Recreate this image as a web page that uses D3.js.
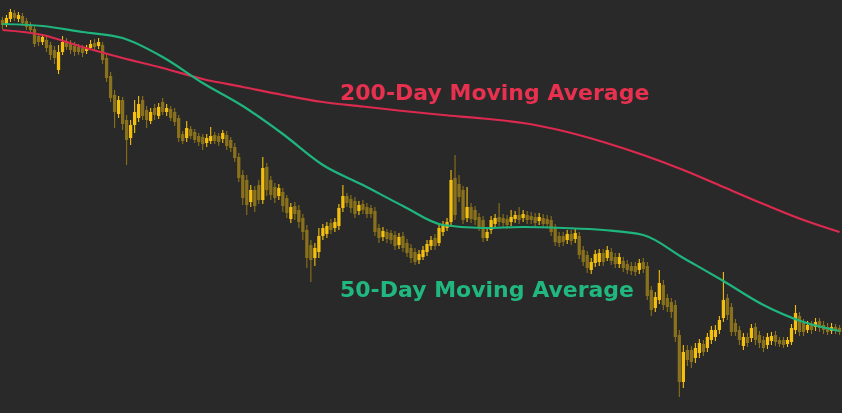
<!DOCTYPE html>
<html><head><meta charset="utf-8">
<script src="https://cdn.jsdelivr.net/npm/d3@7/dist/d3.min.js"></script>
<style>html,body{margin:0;padding:0;background:#292929;overflow:hidden}</style>
</head><body><svg id="c" width="842" height="413"></svg>
<script>
const opens=[400,396,401,407,401,404,399,395,391,384,378,380,375,370,350,368,379,376,374,373,372,369,372,377,374,375,362,344,325,306,320,300,282,295,302,320,310,299,312,304,318,308,311,308,302,286,282,291,288,284,283,277,279,285,284,281,285,280,273,263,245,240,218,230,235,220,253,240,233,224,228,222,201,214,210,202,190,175,162,168,184,186,197,192,194,212,224,221,219,209,216,213,212,209,192,183,188,187,185,175,184,177,172,168,160,163,168,174,182,177,188,192,198,242,236,230,202,213,210,203,200,182,190,196,203,202,201,198,201,205,202,205,204,203,199,202,201,200,192,184,184,180,186,181,184,170,165,150,157,158,167,162,168,163,156,159,156,154,154,150,158,154,130,112,120,135,122,118,115,85,38,70,70,62,67,76,72,80,83,90,102,122,113,97,90,74,83,82,93,85,80,75,79,85,80,80,76,78,90,104,97,90,95,93,99,95,93,89,93,92];
const highs=[403,405,411,410,408,407,402,398,395,387,386,383,378,374,375,384,382,380,378,376,375,375,380,381,382,378,365,348,330,324,323,305,300,320,324,324,314,312,316,317,322,316,314,312,305,289,299,294,291,287,286,286,293,288,287,290,289,283,277,267,250,245,235,234,240,263,257,244,237,236,232,225,217,218,215,206,195,180,177,192,196,198,201,202,216,235,227,225,223,219,220,217,215,213,196,193,191,190,189,187,188,181,176,172,170,174,180,184,186,196,199,202,250,265,245,234,233,217,214,207,204,192,204,206,217,206,205,210,209,213,210,209,208,207,207,206,205,204,196,188,188,190,190,191,188,174,169,162,170,171,171,174,172,167,167,163,160,158,158,161,162,158,134,128,150,140,126,122,120,90,75,75,74,77,81,80,87,94,95,104,148,126,117,101,94,87,87,96,97,89,84,87,88,89,83,83,83,96,115,108,101,99,99,102,102,99,97,97,96,95];
const lows=[391,393,398,399,398,394,390,387,373,374,375,368,360,356,346,365,370,366,364,365,363,366,370,370,371,356,338,318,292,302,290,255,275,287,298,300,292,296,300,301,305,304,299,294,278,276,278,281,277,274,270,273,276,276,274,277,270,268,258,238,215,205,213,208,216,216,224,220,217,220,208,202,197,200,192,180,152,138,154,162,180,182,186,188,190,208,213,207,202,205,206,202,202,184,177,179,177,176,170,171,168,163,157,155,156,160,164,170,170,174,184,189,195,200,218,196,198,197,195,189,178,179,186,192,194,193,191,194,197,196,198,196,196,193,195,192,192,184,174,173,174,176,175,177,161,154,147,146,153,154,154,159,155,152,152,148,146,145,144,146,147,120,104,108,116,110,108,102,78,23,32,54,52,57,62,64,68,76,79,86,98,100,84,84,75,70,73,78,75,72,68,71,75,74,73,72,73,75,86,84,84,87,86,89,88,86,85,86,86,85];
const closes=[395,402,408,402,405,397,393,390,376,378,383,372,365,362,368,378,373,370,368,368,367,372,376,373,378,360,342,322,308,320,296,280,295,308,316,304,300,308,305,313,308,312,302,298,282,279,292,284,280,278,276,282,284,279,278,287,274,272,262,242,222,215,230,214,220,252,230,225,222,232,214,207,213,206,198,188,162,160,172,184,192,194,190,198,212,224,217,212,206,215,210,206,206,188,182,189,181,180,174,183,172,167,162,158,166,170,176,180,174,192,195,198,240,205,223,200,213,201,200,193,182,188,200,202,198,197,195,203,205,200,206,200,200,197,203,196,196,188,178,177,178,186,179,187,165,158,152,158,166,167,158,170,159,156,163,152,150,149,148,157,151,124,110,123,137,115,113,108,83,38,68,60,58,72,77,68,83,90,90,100,120,105,88,88,80,83,77,92,80,77,72,83,84,78,76,75,80,92,107,88,88,95,90,98,92,90,88,93,89,88];
const maIndex=[0,10,20,30,40,50,60,70,80,90,100,110,120,130,140,150,160,170,180,190,200,209];
const ma50=[396,394,388,382,363,337,314,286,255,235,214,195,192,193,192,190,185,162,139,115,98,89];
const ma200=[390,385,373,362,352,341,333,325,318,313.5,309,305,301.5,297,289,278,265,250,233,216,200,188];
const labels=["200-Day Moving Average","50-Day Moving Average"];

const W=842,H=413;
const svg=d3.select("#c");
const defs=svg.append("defs");
defs.append("filter").attr("id","soft").append("feGaussianBlur").attr("stdDeviation",0.35);
svg.append("rect").attr("width",W).attr("height",H).attr("fill","#292929");
const idx=d3.range(opens.length);
const x=d3.scaleBand().domain(idx).range([0,W]).paddingInner(0.18).paddingOuter(0.2);
const y=d3.scaleLinear().domain([0,420]).range([420,0]);
const gold="#f4c00f";
const g=svg.append("g").attr("filter","url(#soft)");
const c=g.selectAll("g.k").data(idx).join("g").attr("class","k")
  .attr("opacity",i=>closes[i]>=opens[i]?1:0.48);
c.append("line")
  .attr("x1",i=>x(i)+x.bandwidth()/2).attr("x2",i=>x(i)+x.bandwidth()/2)
  .attr("y1",i=>y(highs[i])).attr("y2",i=>y(lows[i]))
  .attr("stroke",gold).attr("stroke-width",1.1);
c.append("rect")
  .attr("x",i=>x(i)).attr("width",x.bandwidth())
  .attr("y",i=>y(Math.max(opens[i],closes[i])))
  .attr("height",i=>Math.max(1.5,Math.abs(y(opens[i])-y(closes[i]))))
  .attr("fill",gold);
const cx=i=>x(i)+x.bandwidth()/2;
const line=arr=>d3.line().x((d,k)=>cx(maIndex[k])).y(d=>y(d)).curve(d3.curveMonotoneX)(arr);
svg.append("path").attr("d",line(ma200)).attr("fill","none").attr("stroke","#dc2a4f").attr("stroke-width",2.2);
svg.append("path").attr("d",line(ma50)).attr("fill","none").attr("stroke","#1fb57e").attr("stroke-width",2.2);
svg.append("text").attr("x",340).attr("y",100).text(labels[0])
  .attr("font-family","DejaVu Sans").attr("font-weight","bold").attr("font-size",22).attr("fill","#e8304f");
svg.append("text").attr("x",340).attr("y",297).text(labels[1])
  .attr("font-family","DejaVu Sans").attr("font-weight","bold").attr("font-size",22).attr("fill","#21b880");
</script></body></html>
